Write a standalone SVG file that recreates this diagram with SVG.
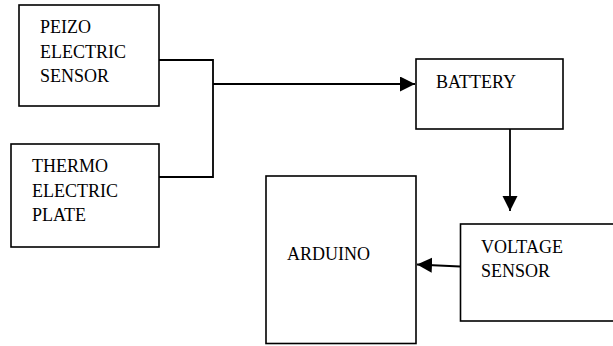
<svg xmlns="http://www.w3.org/2000/svg" width="613" height="346" viewBox="0 0 613 346">
<style>
.box{fill:#fff;stroke:#000;stroke-width:1.6}
.t{font-family:"Liberation Serif","Times New Roman",serif;font-size:18px;fill:#000}
.c{fill:none;stroke:#000;stroke-width:1.8}
</style>
<defs>
<marker id="ah" markerWidth="16" markerHeight="16" refX="15" refY="7.5" orient="auto" markerUnits="userSpaceOnUse">
<path d="M0,0 L15,7.5 L0,15 Z" fill="#000"/>
</marker>
</defs>
<rect width="613" height="346" fill="#fff"/>
<g id="connectors">
<path class="c" d="M159,60 H213 V177 H159"/>
<path class="c" d="M213,84 H415" marker-end="url(#ah)"/>
<path class="c" d="M510,129 V211" marker-end="url(#ah)"/>
<path class="c" d="M460,266.5 L417,264.5" marker-end="url(#ah)"/>
</g>
<g id="peizo">
<rect class="box" x="19" y="5" width="140" height="101"/>
<text class="t" x="40" y="33">PEIZO</text>
<text class="t" x="40" y="57.5">ELECTRIC</text>
<text class="t" x="40" y="82">SENSOR</text>
</g>
<g id="thermo">
<rect class="box" x="11" y="144" width="148" height="103"/>
<text class="t" x="32" y="172">THERMO</text>
<text class="t" x="32" y="196.5">ELECTRIC</text>
<text class="t" x="32" y="221">PLATE</text>
</g>
<g id="battery">
<rect class="box" x="416" y="59" width="147" height="70"/>
<text class="t" x="436" y="87.5">BATTERY</text>
</g>
<g id="voltage">
<rect class="box" x="460.5" y="224" width="160" height="97"/>
<text class="t" x="481" y="252.5">VOLTAGE</text>
<text class="t" x="481" y="277">SENSOR</text>
</g>
<g id="arduino">
<rect class="box" x="266" y="176" width="150" height="167.5"/>
<text class="t" x="287" y="259.5">ARDUINO</text>
</g>
</svg>
